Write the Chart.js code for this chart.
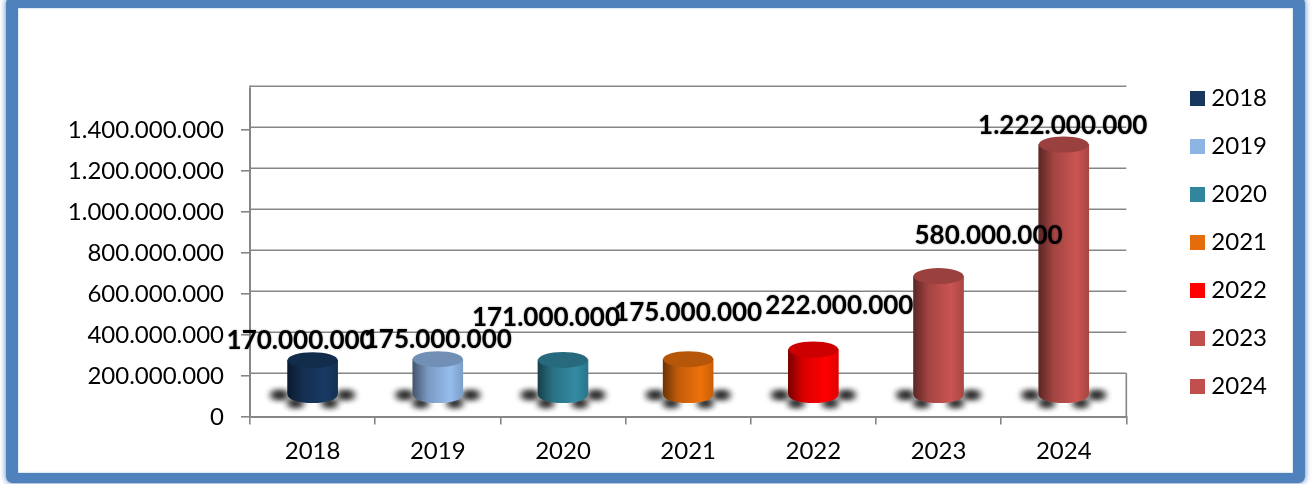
<!DOCTYPE html>
<html>
<head>
<meta charset="utf-8">
<style>
  html, body { margin: 0; padding: 0; background: #fff; overflow: hidden; }
  #frame { position: absolute; left: 6px; top: -3px; width: 1275px; height: 465px; border: 12px solid #4F81BD; border-top-width: 11px; border-bottom-width: 10px; border-radius: 6px; box-shadow: 0 0 6px #4F81BD, inset 0 0 2px rgba(79,129,189,.6); }
  #wrap { position: absolute; left: 0; top: 0; width: 1313px; height: 484px; }
</style>
</head>
<body>
<div id="frame"></div>
<div id="wrap"><canvas id="chart-anual"></canvas></div>
<script src="https://cdn.jsdelivr.net/npm/chart.js@4"></script>
<script>
const categories = ['2018', '2019', '2020', '2021', '2022', '2023', '2024'];
const valores = [170000000, 175000000, 171000000, 175000000, 222000000, 580000000, 1222000000];
const colores = ['#17375E', '#8EB4E3', '#31859C', '#E46C0A', '#FF0000', '#C0504D', '#C0504D'];
const tickValues = [0, 200000000, 400000000, 600000000, 800000000, 1000000000, 1200000000, 1400000000, 1600000000];

// ajustes a mano de la etiqueta respecto al centro de la barra
const labelShiftX = [-12, 0, -17, 0, 26, 50, -1];
const labelShiftY = [-20, -20, -42, -47, -44, -40, -19];

const FUENTE = 'Lato, Carlito, sans-serif';
const GRIS = '#868686';
const ALZADO = 21.5;  // la barra se dibuja sobre el suelo 3D
const RY = 8;

const fmt = v => String(v).replace(/\B(?=(\d{3})+$)/g, '.');

const mezclar = (hex, f) => {
  const n = parseInt(hex.slice(1), 16);
  const c = [n >> 16, (n >> 8) & 255, n & 255].map(x => Math.min(255, Math.round(x * f)));
  return `rgb(${c[0]},${c[1]},${c[2]})`;
};

const muestra = color => {
  const c = document.createElement('canvas');
  c.width = 15;
  c.height = 15;
  const g = c.getContext('2d');
  g.fillStyle = color;
  g.fillRect(0, 0, 15, 15);
  return c;
};

const degradado = ctx => {
  const { chart, dataIndex } = ctx;
  if (!chart.chartArea) return colores[dataIndex];
  const cx = chart.scales.x.getPixelForValue(dataIndex);
  const g = chart.ctx.createLinearGradient(cx - 25, 0, cx + 25, 0);
  const base = colores[dataIndex];
  g.addColorStop(0, mezclar(base, 0.48));
  g.addColorStop(0.3, mezclar(base, 0.85));
  g.addColorStop(0.75, mezclar(base, 1.05));
  g.addColorStop(1, mezclar(base, 0.88));
  return g;
};

const cilindro = {
  id: 'cilindro',
  beforeDatasetsDraw(chart) {
    const { ctx, chartArea, scales: { y } } = chart;
    // lineas de la pared del fondo
    ctx.save();
    ctx.strokeStyle = GRIS;
    ctx.lineWidth = 1.6;
    y.ticks.forEach(t => {
      if (t.value === 0) return;
      const py = y.getPixelForValue(t.value) - 2.2;
      ctx.beginPath();
      ctx.moveTo(chartArea.left, py);
      ctx.lineTo(chartArea.right, py);
      ctx.stroke();
    });
    // suelo y eje prolongado
    const sueloY = y.getPixelForValue(200000000) - 2.2;
    ctx.beginPath();
    ctx.moveTo(chartArea.right, sueloY);
    ctx.lineTo(chartArea.right, chartArea.bottom);
    ctx.moveTo(chartArea.left, chartArea.top - 3);
    ctx.lineTo(chartArea.left, chartArea.top);
    ctx.stroke();
    ctx.restore();

    const base = y.getPixelForValue(0) - ALZADO;
    chart.getDatasetMeta(0).data.forEach(bar => {
      // sombra difusa bajo el cilindro
      ctx.save();
      ctx.filter = 'blur(3.5px)';
      ctx.fillStyle = '#000';
      [[-33, 0, 9, 3], [33, 0, 9, 3], [-17, 8, 8, 3], [17, 8, 8, 3]].forEach(s => {
        for (let k = 0; k < 2; k++) {
          ctx.beginPath();
          ctx.ellipse(bar.x + s[0], base + s[1], s[2], s[3], 0, 0, Math.PI * 2);
          ctx.fill();
        }
      });
      ctx.restore();
    });
    ctx.save();
    ctx.translate(0, -ALZADO);
    chart.getDatasetMeta(0).data.forEach(bar => {
      ctx.fillStyle = bar.options.backgroundColor;
      ctx.beginPath();
      ctx.ellipse(bar.x, y.getPixelForValue(0), 25, RY, 0, 0, Math.PI * 2);
      ctx.fill();
    });
  },
  afterDatasetsDraw(chart) {
    const { ctx } = chart;
    chart.getDatasetMeta(0).data.forEach((bar, i) => {
      ctx.fillStyle = mezclar(colores[i], 0.8);
      ctx.beginPath();
      ctx.ellipse(bar.x, bar.y, 25, RY, 0, 0, Math.PI * 2);
      ctx.fill();
    });
    ctx.restore();

    // etiquetas de valor
    ctx.save();
    ctx.font = `bold 26px ${FUENTE}`;
    ctx.textAlign = 'center';
    ctx.textBaseline = 'middle';
    ctx.fillStyle = '#000';
    ctx.shadowColor = 'rgba(0,0,0,.45)';
    ctx.shadowBlur = 2;
    chart.getDatasetMeta(0).data.forEach((bar, i) => {
      ctx.fillText(fmt(valores[i]), bar.x + labelShiftX[i], bar.y - ALZADO + labelShiftY[i]);
    });
    ctx.restore();
  }
};

new Chart(document.getElementById('chart-anual').getContext('2d'), {
  type: 'bar',
  data: {
    labels: categories,
    datasets: [{
      data: valores,
      backgroundColor: degradado,
      barThickness: 50,
      borderWidth: 0,
      xAxisID: 'x',
      yAxisID: 'y'
    }]
  },
  plugins: [cilindro],
  options: {
    responsive: true,
    maintainAspectRatio: false,
    animation: false,
    devicePixelRatio: 1,
    layout: { padding: { left: 0, top: 0, right: 36, bottom: 0 } },
    plugins: {
      tooltip: { enabled: false },
      legend: {
        position: 'right',
        labels: {
          usePointStyle: true,
          pointStyleWidth: 4,
          padding: 24,
          color: '#000',
          font: { family: FUENTE, size: 24 },
          generateLabels: () => categories.map((c, i) => ({
            text: c,
            pointStyle: muestra(colores[i]),
            fillStyle: colores[i],
            strokeStyle: colores[i],
            lineWidth: 0,
            hidden: false,
            index: i
          }))
        }
      }
    },
    scales: {
      x: {
        offset: true,
        afterFit: s => { s.height = 67.5; },
        grid: { drawOnChartArea: false, color: GRIS, tickColor: GRIS, tickLength: 8, lineWidth: 1.6 },
        border: { color: GRIS, width: 2 },
        ticks: { color: '#000', padding: 12, font: { family: FUENTE, size: 24 } }
      },
      y: {
        min: 0,
        max: 1600000000,
        afterFit: s => { s.width = 250; },
        afterBuildTicks: s => { s.ticks = tickValues.map(value => ({ value })); },
        grid: {
          drawOnChartArea: false,
          lineWidth: 1.6,
          color: GRIS,
          tickLength: 9,
          tickColor: c => (c.tick && c.tick.value === 1600000000 ? 'transparent' : GRIS)
        },
        border: { color: GRIS, width: 2 },
        ticks: {
          color: '#000',
          padding: 17,
          labelOffset: 1,
          font: { family: FUENTE, size: 24 },
          callback: v => (v === 1600000000 ? '' : fmt(v))
        }
      },
      // huecos entre el grafico, la leyenda y el borde superior
      hueco: {
        position: 'right',
        display: true,
        afterFit: s => { s.width = 45; },
        grid: { display: false },
        border: { display: false },
        ticks: { display: false }
      },
      huecoSup: {
        type: 'linear',
        position: 'top',
        display: true,
        afterFit: s => { s.height = 88.5; },
        grid: { display: false },
        border: { display: false },
        ticks: { display: false }
      }
    }
  }
});
</script>
</body>
</html>
